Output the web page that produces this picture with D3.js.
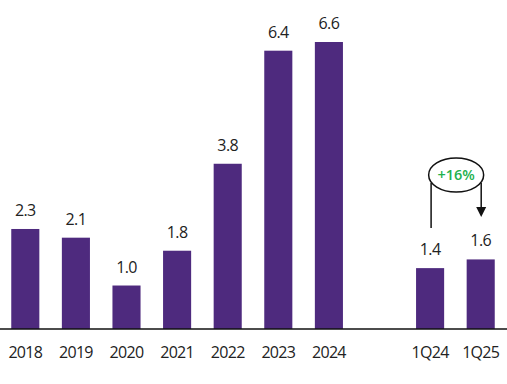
<!DOCTYPE html>
<html>
<head>
<meta charset="utf-8">
<script src="https://cdn.jsdelivr.net/npm/d3@7"></script>
<style>
  html, body { margin: 0; padding: 0; background: #fff; }
  svg { display: block; }
</style>
</head>
<body>
<svg id="chart" width="507" height="384"></svg>
<script>
const categories = ["2018", "2019", "2020", "2021", "2022", "2023", "2024", "", "1Q24", "1Q25"];
const values = [2.3, 2.1, 1.0, 1.8, 3.8, 6.4, 6.6, null, 1.4, 1.6];
const valueLabels = ["2.3", "2.1", "1.0", "1.8", "3.8", "6.4", "6.6", "", "1.4", "1.6"];
const growthLabel = "+16%";
const growthFrom = "1Q24";
const growthTo = "1Q25";

const svg = d3.select("#chart");
const W = 507, baseY = 329;
const font = "'Open Sans', sans-serif";
const barColor = "#4e2a7e";

const x = d3.scaleBand().domain(categories.map((c, i) => i)).range([0, 506])
  .paddingInner(0.445).paddingOuter(0.2225);
const y = d3.scaleLinear().domain([0, 6.6]).range([baseY, 42]);

const data = categories.map((c, i) => ({ i, c, v: values[i], l: valueLabels[i] })).filter(d => d.v != null);

svg.selectAll("rect.bar").data(data).join("rect")
  .attr("class", "bar")
  .attr("x", d => x(d.i))
  .attr("width", x.bandwidth())
  .attr("y", d => y(d.v))
  .attr("height", d => y(0) - y(d.v))
  .attr("fill", barColor);

svg.selectAll("text.val").data(data).join("text")
  .attr("class", "val")
  .attr("x", d => x(d.i) + x.bandwidth() / 2)
  .attr("y", d => y(d.v) - 13)
  .attr("text-anchor", "middle")
  .attr("font-family", font)
  .attr("font-size", 16)
  .attr("letter-spacing", -0.6)
  .attr("fill", "#222")
  .text(d => d.l);

// axis
const axis = d3.axisBottom(x).tickSize(0).tickPadding(0).tickFormat(i => categories[i]);
const gAxis = svg.append("g").attr("transform", `translate(0,${baseY})`).call(axis);
gAxis.select(".domain").remove();
gAxis.selectAll("text")
  .attr("y", 29).attr("dy", null)
  .attr("font-family", font).attr("font-size", 16).attr("letter-spacing", -0.7)
  .attr("fill", "#222");
svg.append("line").attr("x1", 0).attr("x2", W).attr("y1", baseY).attr("y2", baseY)
  .attr("stroke", "#111").attr("stroke-width", 1.5);

// growth annotation
const iFrom = categories.indexOf(growthFrom), iTo = categories.indexOf(growthTo);
const xf = x(iFrom) + x.bandwidth() / 2 + 1;
const xt = x(iTo) + x.bandwidth() / 2 + 0.5;
const cx = (xf + xt) / 2, cy = 175;
const g = svg.append("g");
g.append("line").attr("x1", xf).attr("x2", xf).attr("y1", cy + 8).attr("y2", y(values[iFrom]) - 40)
  .attr("stroke", "#111").attr("stroke-width", 1.5);
g.append("line").attr("x1", xt).attr("x2", xt).attr("y1", cy + 8).attr("y2", 208)
  .attr("stroke", "#111").attr("stroke-width", 1.5);
g.append("path").attr("d", `M${xt - 5},207 L${xt + 5},207 L${xt},217 Z`).attr("fill", "#111");
g.append("ellipse").attr("cx", cx).attr("cy", cy).attr("rx", 27.5).attr("ry", 17)
  .attr("fill", "#fff").attr("stroke", "#111").attr("stroke-width", 1.5);
g.append("text").attr("x", cx).attr("y", cy + 5).attr("text-anchor", "middle")
  .attr("font-family", font).attr("font-size", 14.5).attr("font-weight", 600)
  .attr("fill", "#22b14c").text(growthLabel);
</script>
</body>
</html>
